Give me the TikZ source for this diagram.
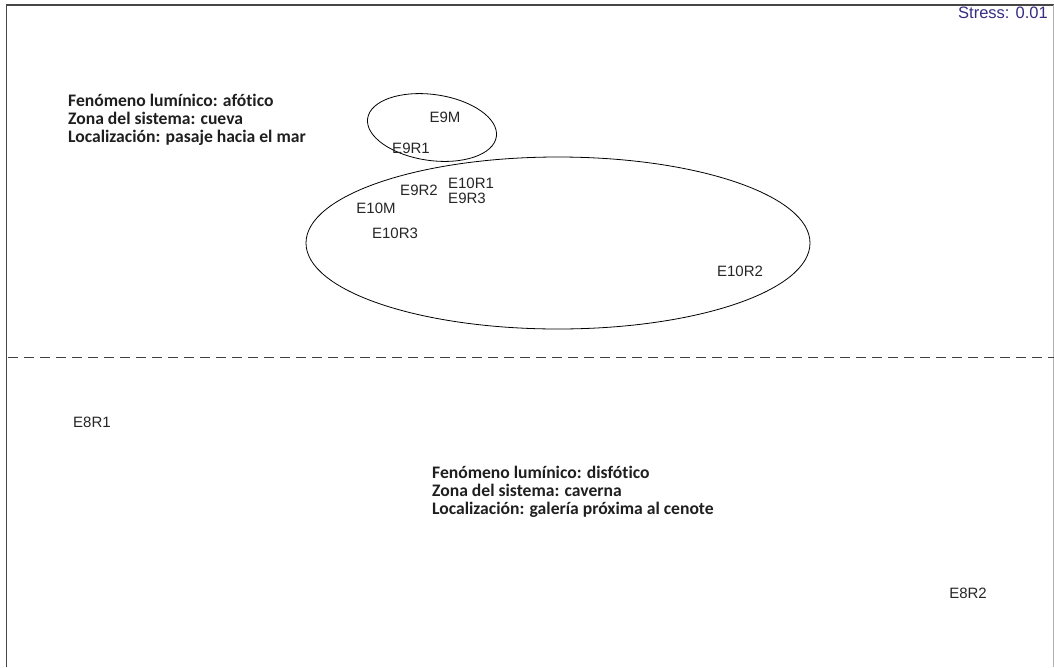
\documentclass[tikz,border=0pt]{standalone}
\usepackage{fontspec}
\setmainfont{Liberation Sans}
\newfontfamily\notefont[Ligatures=NoCommon]{Carlito}
\definecolor{framegray}{RGB}{70,70,70}
\definecolor{stressblue}{RGB}{55,45,130}
\tikzset{
  sample/.style={font=\fontsize{15}{17}\selectfont, text=black!85, inner sep=0pt},
  note/.style={font=\notefont\bfseries\fontsize{17.6}{18}\selectfont, align=left, inner sep=0pt, anchor=base west, text=black!88},
  group/.style={draw=black, line width=0.8pt},
  framing/.style={draw=framegray, line width=1.4pt},
  divider/.style={draw=black!75, line width=1pt, dash pattern=on 10pt off 6pt}
}
\begin{document}
\begin{tikzpicture}[x=1pt,y=-1pt]
\useasboundingbox (0,0) rectangle (1054,667);
\fill[white] (0,0) rectangle (1054,667);
% plot frame
\draw[framing] (6.5,667) -- (6.5,5) -- (1054,5);
\draw[draw=black!30, line width=0.8pt] (1053.2,5) -- (1053.2,667);
% stress value
\node[font=\fontsize{16.5}{18}\selectfont, text=stressblue, inner sep=0pt] (stress) at (1003,12.5) {Stress: 0.01};
% group outlines
\draw[group, rotate around={-8:(432,127.5)}] (432,127.5) ellipse [x radius=65, y radius=33];
\draw[group] (558,243) ellipse [x radius=252, y radius=86];
% dividing line
\coordinate (divL) at (8,357);
\coordinate (divR) at (1054,357);
\draw[divider] (divL) -- (divR);
% sample labels
\node[sample] (e9m)   at (445,117) {E9M};
\node[sample] (e9r1)  at (411,148) {E9R1};
\node[sample] (e10r1) at (471,183) {E10R1};
\node[sample] (e9r3)  at (467,198) {E9R3};
\node[sample] (e9r2)  at (419,190) {E9R2};
\node[sample] (e10m)  at (376,208) {E10M};
\node[sample] (e10r3) at (395,233) {E10R3};
\node[sample] (e10r2) at (740,271) {E10R2};
\node[sample] (e8r1)  at (92,422)  {E8R1};
\node[sample] (e8r2)  at (968,593) {E8R2};
% group descriptions (anchored at the baseline of their last line)
\node[note] (upper) at (68,142) {Fenómeno lumínico: afótico\\Zona del sistema: cueva\\Localización: pasaje hacia el mar};
\node[note] (lower) at (432,514) {Fenómeno lumínico: disfótico\\Zona del sistema: caverna\\Localización: galería próxima al cenote};
\end{tikzpicture}
\end{document}
